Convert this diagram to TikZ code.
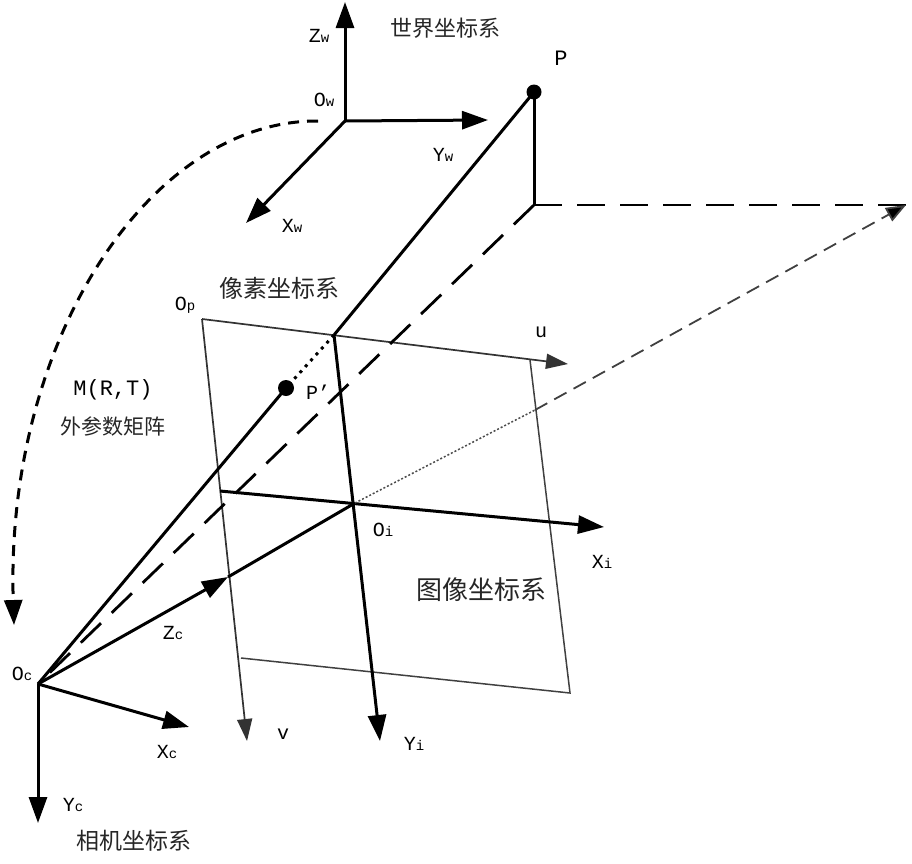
\documentclass[tikz,border=0pt]{standalone}
\usepackage{fontspec}
\usepackage{tikz}
\usetikzlibrary{arrows.meta}
\setmainfont{Liberation Mono}
\newfontfamily\cjk{Noto Sans CJK SC}
\newcommand{\lbl}[2]{#1{\fontsize{14}{14}\selectfont #2}}

\begin{document}
\begin{tikzpicture}[x=1pt, y=-1pt,
  axis/.style={line width=3pt, -{Triangle[length=26pt,width=18pt]}},
  thick line/.style={line width=3pt},
  plane line/.style={line width=1.5pt, draw=black!75},
  plane axis/.style={line width=1.7pt, draw=black!80, -{Triangle[length=22pt,width=15pt]}},
  long dash/.style={line width=2.8pt, dash pattern=on 28pt off 15pt},
  text label/.style={font=\fontsize{20}{20}\selectfont, inner sep=0pt},
  cjk label/.style={font=\cjk\fontsize{22}{22}\selectfont, inner sep=0pt, text=black!85},
  point/.style={circle, fill=black, inner sep=0pt, minimum size=15pt}]
\useasboundingbox (0,0) rectangle (912,863);

\coordinate (ow)  at (345,121);
\coordinate (zw)  at (345,2);
\coordinate (yw)  at (488,120);
\coordinate (xw)  at (246,223);
\coordinate (foot) at (534,205);
\coordinate (far) at (906,205);
\coordinate (oc)  at (38,684);
\coordinate (zc)  at (228,577);
\coordinate (xc)  at (189,727);
\coordinate (yc)  at (38,823);
\coordinate (oi)  at (355,503);
\coordinate (xistart) at (220,491);
\coordinate (xi)  at (604,527);
\coordinate (yistart) at (334,335);
\coordinate (yi)  at (380,741);
\coordinate (op)  at (202,319);
\coordinate (tr)  at (530,360);
\coordinate (br)  at (570,693);
\coordinate (bl)  at (241,658);
\coordinate (u)   at (568,364);
\coordinate (v)   at (247,741);
\coordinate (cross) at (535,410);
\coordinate (curvestart) at (318,121);
\coordinate (curveend) at (14,625);

\node[point] (p) at (534,92) {};
\node[point, minimum size=16pt] (pp) at (286,388) {};

% plane
\draw[plane line] (tr) -- (br) -- (bl);
\draw[plane axis] (op) -- (u);
\draw[plane axis] (op) -- (v);

% world axes
\draw[axis] (ow) -- (zw);
\draw[axis] (ow) -- (yw);
\draw[axis] (ow) -- (xw);

% camera axes
\draw[axis] (oc) -- (xc);
\draw[axis] (oc) -- (yc);
\draw[axis] (oc) -- (zc);
\draw[thick line] (zc) -- (oi);

% image axes
\draw[axis] (xistart) -- (xi);
\draw[axis] (yistart) -- (yi);

% projection ray
\draw[thick line] (p.center) -- (yistart);
\draw[line width=3pt, dash pattern=on 3pt off 5pt] (yistart) -- (pp.center);
\draw[thick line] (pp.center) -- (oc);
\draw[thick line] (p.center) -- (foot);
\draw[long dash] (foot) -- (oc);
\draw[long dash] (foot) -- (far);
\draw[line width=1.5pt, dash pattern=on 2pt off 2pt, draw=black!70] (oi) -- (cross);
\draw[line width=1.8pt, dash pattern=on 14pt off 8pt, draw=black!75, -{Triangle[length=20pt,width=15pt,fill=black]}] (cross) -- (far);

% extrinsic arc
\draw[line width=3pt, dash pattern=on 11pt off 8pt, -{Triangle[length=25pt,width=18pt]}]
  (curvestart) .. controls (150,120) and (5,340) .. (curveend);

% labels
\node[text label] (zwl) at (319,36)  {\lbl{Z}{w}};
\node[text label] (owl) at (324,100) {\lbl{O}{w}};
\node[text label] (ywl) at (443,155) {\lbl{Y}{w}};
\node[text label] (xwl) at (292,226) {\lbl{X}{w}};
\node[text label, font=\fontsize{22}{22}\selectfont] (pl)  at (561,58)  {P};
\node[text label] (opl) at (185,305) {\lbl{O}{p}};
\node[text label] (ul)  at (541,332) {u};
\node[text label] (ppl) at (318,392) {P’};
\node[text label] (oil) at (383,530) {\lbl{O}{i}};
\node[text label] (xil) at (602,562) {\lbl{X}{i}};
\node[text label] (zcl) at (173,633) {\lbl{Z}{c}};
\node[text label] (ocl) at (22,674)  {\lbl{O}{c}};
\node[text label] (xcl) at (167,752) {\lbl{X}{c}};
\node[text label] (ycl) at (73,805)  {\lbl{Y}{c}};
\node[text label] (vl)  at (283,734) {v};
\node[text label] (yil) at (414,744) {\lbl{Y}{i}};
\node[text label, font=\fontsize{22}{22}\selectfont] (ml)  at (113,390) {M(R,T)};
\node[cjk label] (world)  at (445,28)  {世界坐标系};
\node[cjk label, font=\cjk\fontsize{24}{24}\selectfont] (pixel)  at (279,288) {像素坐标系};
\node[cjk label, font=\cjk\fontsize{21}{21}\selectfont] (extr)   at (113,426) {外参数矩阵};
\node[cjk label, font=\cjk\fontsize{26}{26}\selectfont] (image)  at (481,590) {图像坐标系};
\node[cjk label, font=\cjk\fontsize{23}{23}\selectfont] (camera) at (134,841) {相机坐标系};
\end{tikzpicture}
\end{document}
